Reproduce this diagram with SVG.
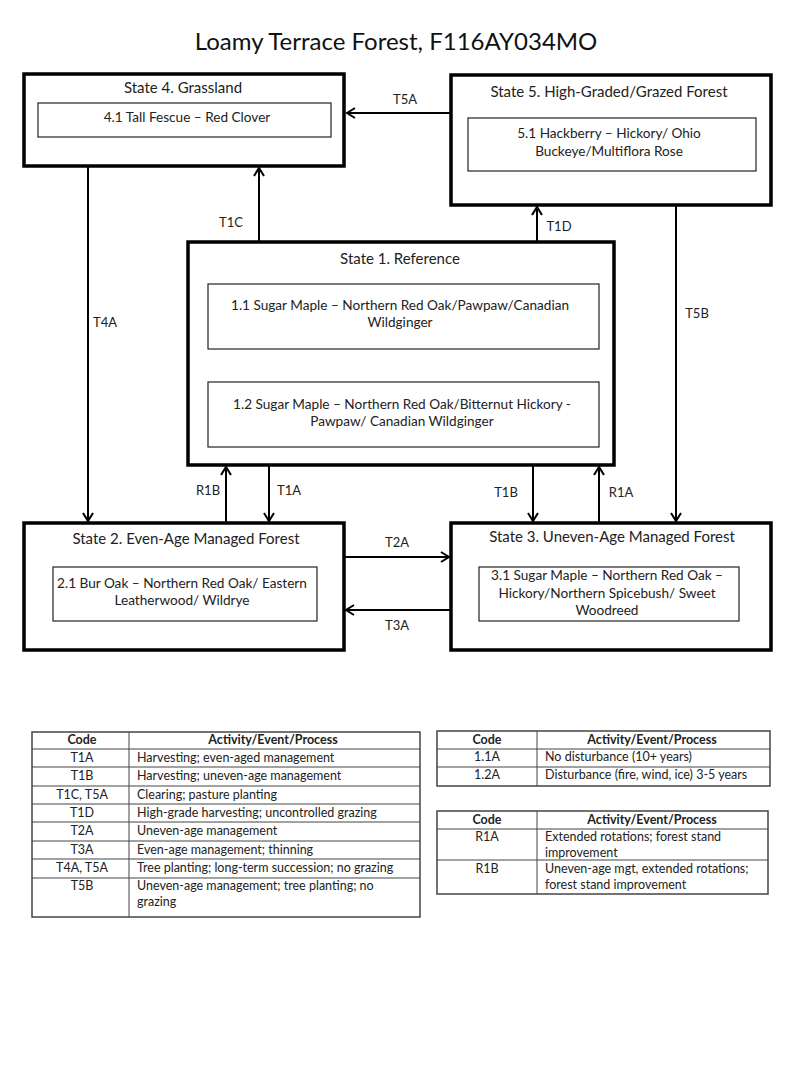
<svg xmlns="http://www.w3.org/2000/svg" width="800" height="1067" viewBox="0 0 800 1067">
<defs>
<style>
text{font-family:Lato,"Liberation Sans",sans-serif;fill:#222}
.title{font-size:24px;text-anchor:middle;fill:#111}
.st{font-size:15px;text-anchor:middle}
.ph{font-size:13.6px;text-anchor:middle}
.lbl{font-size:13px;text-anchor:middle}
.lbl2{font-size:13px}
.state{fill:#fff;stroke:#000;stroke-width:3.5}
.inner{fill:#fff;stroke:#222;stroke-width:1.2}
.conn{stroke:#000;stroke-width:2;fill:none}
.thin{stroke:#333;stroke-width:1.2;fill:none}
.th{font-size:12.5px;font-weight:bold;text-anchor:middle}
.tc{font-size:12.5px;text-anchor:middle}
.td{font-size:12.5px}
.tb{fill:none;stroke:#444;stroke-width:1.5}
.tl{stroke:#444;stroke-width:1}
</style>
<marker id="ah" markerUnits="userSpaceOnUse" markerWidth="12" markerHeight="14" refX="9" refY="6" orient="auto">
<path d="M1,1 L9,6 L1,11" fill="none" stroke="#000" stroke-width="2"/>
</marker>
<marker id="ahs" markerUnits="userSpaceOnUse" markerWidth="10" markerHeight="12" refX="7" refY="5" orient="auto">
<path d="M1,1 L7,5 L1,9" fill="none" stroke="#333" stroke-width="1.2"/>
</marker>
</defs>
<rect width="800" height="1067" fill="#fff"/>
<text class="title" x="396" y="50">Loamy Terrace Forest, F116AY034MO</text>

<g id="connectors">
<line class="conn" x1="451" y1="113" x2="347" y2="113" marker-end="url(#ah)"/>
<line class="conn" x1="259" y1="242" x2="259" y2="168" marker-end="url(#ah)"/>
<line class="conn" x1="537" y1="242" x2="537" y2="207" marker-end="url(#ah)"/>
<line class="conn" x1="88" y1="166" x2="88" y2="521" marker-end="url(#ah)"/>
<line class="conn" x1="676" y1="205" x2="676" y2="521" marker-end="url(#ah)"/>
<line class="conn" x1="226" y1="523" x2="226" y2="467" marker-end="url(#ah)"/>
<line class="conn" x1="269" y1="465" x2="269" y2="521" marker-end="url(#ah)"/>
<line class="conn" x1="533" y1="465" x2="533" y2="521" marker-end="url(#ah)"/>
<line class="conn" x1="599" y1="523" x2="599" y2="467" marker-end="url(#ah)"/>
<line class="conn" x1="344" y1="557" x2="449" y2="557" marker-end="url(#ah)"/>
<line class="conn" x1="451" y1="610" x2="346" y2="610" marker-end="url(#ah)"/>
<line class="thin" x1="283" y1="349" x2="283" y2="382" marker-end="url(#ahs)"/>
<line class="thin" x1="495" y1="382" x2="495" y2="349" marker-end="url(#ahs)"/>
<text class="lbl" x="405" y="104">T5A</text>
<text class="lbl" x="231" y="227">T1C</text>
<text class="lbl" x="559" y="231">T1D</text>
<text class="lbl" x="105" y="327">T4A</text>
<text class="lbl" x="697" y="318">T5B</text>
<text class="lbl" x="208" y="495">R1B</text>
<text class="lbl" x="289" y="495">T1A</text>
<text class="lbl" x="506" y="497">T1B</text>
<text class="lbl" x="621" y="497">R1A</text>
<text class="lbl" x="397" y="547">T2A</text>
<text class="lbl" x="397" y="630">T3A</text>
<text class="lbl2" x="290" y="369">1.1A</text>
<text class="lbl2" x="504" y="369">1.2A</text>
</g>

<g id="state4">
<rect class="state" x="24" y="74" width="320" height="92"/>
<text class="st" x="183" y="93">State 4. Grassland</text>
<rect class="inner" x="38" y="103" width="293" height="34"/>
<text class="ph" x="187" y="122">4.1 Tall Fescue – Red Clover</text>
</g>

<g id="state5">
<rect class="state" x="451" y="75" width="320" height="130"/>
<text class="st" x="609" y="97">State 5. High-Graded/Grazed Forest</text>
<rect class="inner" x="468" y="118" width="288" height="53"/>
<text class="ph" x="609" y="138">5.1 Hackberry – Hickory/ Ohio</text>
<text class="ph" x="609" y="156">Buckeye/Multiflora Rose</text>
</g>

<g id="state1">
<rect class="state" x="188" y="242" width="426" height="223"/>
<text class="st" x="400" y="264">State 1. Reference</text>
<g id="phase1-1">
<rect class="inner" x="208" y="284" width="391" height="65"/>
<text class="ph" x="400" y="310">1.1 Sugar Maple – Northern Red Oak/Pawpaw/Canadian</text>
<text class="ph" x="400" y="327">Wildginger</text>
</g>
<g id="phase1-2">
<rect class="inner" x="208" y="382" width="391" height="65"/>
<text class="ph" x="402" y="409">1.2 Sugar Maple – Northern Red Oak/Bitternut Hickory -</text>
<text class="ph" x="402" y="426">Pawpaw/ Canadian Wildginger</text>
</g>
</g>

<g id="state2">
<rect class="state" x="24" y="523" width="320" height="127"/>
<text class="st" x="186" y="544">State 2. Even-Age Managed Forest</text>
<rect class="inner" x="53" y="567" width="264" height="54"/>
<text class="ph" x="182" y="588">2.1 Bur Oak – Northern Red Oak/ Eastern</text>
<text class="ph" x="182" y="605">Leatherwood/ Wildrye</text>
</g>

<g id="state3">
<rect class="state" x="451" y="523" width="320" height="127"/>
<text class="st" x="612" y="542">State 3. Uneven-Age Managed Forest</text>
<rect class="inner" x="479" y="567" width="260" height="54"/>
<text class="ph" x="607" y="580">3.1 Sugar Maple – Northern Red Oak –</text>
<text class="ph" x="607" y="598">Hickory/Northern Spicebush/ Sweet</text>
<text class="ph" x="607" y="615">Woodreed</text>
</g>

<g id="table-transitions">
<rect class="tb" x="32" y="732" width="388" height="185"/>
<line class="tl" x1="129" y1="732" x2="129" y2="917"/>
<line class="tl" x1="32" y1="749" x2="420" y2="749"/>
<line class="tl" x1="32" y1="767" x2="420" y2="767"/>
<line class="tl" x1="32" y1="786" x2="420" y2="786"/>
<line class="tl" x1="32" y1="804" x2="420" y2="804"/>
<line class="tl" x1="32" y1="822" x2="420" y2="822"/>
<line class="tl" x1="32" y1="841" x2="420" y2="841"/>
<line class="tl" x1="32" y1="859" x2="420" y2="859"/>
<line class="tl" x1="32" y1="878" x2="420" y2="878"/>
<text class="th" x="82" y="744">Code</text>
<text class="th" x="273" y="744">Activity/Event/Process</text>
<text class="tc" x="82" y="762">T1A</text>
<text class="td" x="137" y="762">Harvesting; even-aged management</text>
<text class="tc" x="82" y="780">T1B</text>
<text class="td" x="137" y="780">Harvesting; uneven-age management</text>
<text class="tc" x="82" y="799">T1C, T5A</text>
<text class="td" x="137" y="799">Clearing; pasture planting</text>
<text class="tc" x="82" y="817">T1D</text>
<text class="td" x="137" y="817">High-grade harvesting; uncontrolled grazing</text>
<text class="tc" x="82" y="835">T2A</text>
<text class="td" x="137" y="835">Uneven-age management</text>
<text class="tc" x="82" y="854">T3A</text>
<text class="td" x="137" y="854">Even-age management; thinning</text>
<text class="tc" x="82" y="872">T4A, T5A</text>
<text class="td" x="137" y="872">Tree planting; long-term succession; no grazing</text>
<text class="tc" x="82" y="890">T5B</text>
<text class="td" x="137" y="890">Uneven-age management; tree planting; no</text>
<text class="td" x="137" y="906">grazing</text>
</g>

<g id="table-pathways">
<rect class="tb" x="437" y="731" width="333" height="55"/>
<line class="tl" x1="537" y1="731" x2="537" y2="786"/>
<line class="tl" x1="437" y1="749" x2="770" y2="749"/>
<line class="tl" x1="437" y1="767" x2="770" y2="767"/>
<text class="th" x="487" y="744">Code</text>
<text class="th" x="652" y="744">Activity/Event/Process</text>
<text class="tc" x="487" y="761">1.1A</text>
<text class="td" x="545" y="761">No disturbance (10+ years)</text>
<text class="tc" x="487" y="779">1.2A</text>
<text class="td" x="545" y="779">Disturbance (fire, wind, ice) 3-5 years</text>
</g>

<g id="table-restoration">
<rect class="tb" x="437" y="811" width="331" height="83"/>
<line class="tl" x1="537" y1="811" x2="537" y2="894"/>
<line class="tl" x1="437" y1="829" x2="768" y2="829"/>
<line class="tl" x1="437" y1="860" x2="768" y2="860"/>
<text class="th" x="487" y="824">Code</text>
<text class="th" x="652" y="824">Activity/Event/Process</text>
<text class="tc" x="487" y="841">R1A</text>
<text class="td" x="545" y="841">Extended rotations; forest stand</text>
<text class="td" x="545" y="857">improvement</text>
<text class="tc" x="487" y="873">R1B</text>
<text class="td" x="545" y="873">Uneven-age mgt, extended rotations;</text>
<text class="td" x="545" y="889">forest stand improvement</text>
</g>
</svg>
